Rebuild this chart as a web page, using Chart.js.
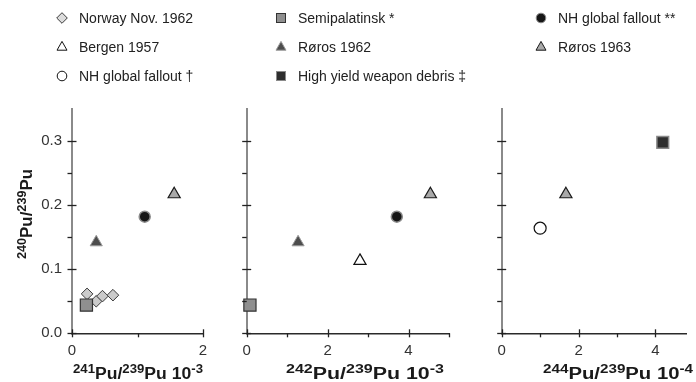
<!DOCTYPE html>
<html>
<head>
<meta charset="utf-8">
<script src="https://cdn.jsdelivr.net/npm/chart.js@4/dist/chart.umd.min.js"></script>
<style>
  html, body { margin: 0; padding: 0; background: #fff; }
  #wrap { position: relative; width: 696px; height: 382px; overflow: hidden;
          font-family: "Liberation Sans", Arial, Helvetica, sans-serif; }
  canvas.panel { position: absolute; top: 90px; }
  .leg { position: absolute; font-size: 14px; line-height: 16px; color: #222; white-space: nowrap;
         will-change: transform; }
  .mk { position: absolute; }
</style>
</head>
<body>
<div id="wrap">
  <canvas id="p241" class="panel" width="230" height="292" style="left:0px"></canvas>
  <canvas id="p242" class="panel" width="230" height="292" style="left:230px"></canvas>
  <canvas id="p244" class="panel" width="226" height="292" style="left:470px"></canvas>
</div>
<script>
// ---------------------------------------------------------------------------
// Plutonium isotope ratios. y: 240Pu/239Pu, x: 241Pu/239Pu (x10^-3),
// 242Pu/239Pu (x10^-3) and 244Pu/239Pu (x10^-4).
// ---------------------------------------------------------------------------
const seriesNames = [
  'Norway Nov. 1962', 'Semipalatinsk *', 'NH global fallout **',
  'Bergen 1957', 'Røros 1962', 'Røros 1963',
  'NH global fallout †', 'High yield weapon debris ‡'
];

const norwayY      = [0.0615, 0.050, 0.058, 0.0595];
const norwayX241   = [0.23, 0.37, 0.465, 0.625];

const semipalatinskY    = [0.044];
const semipalatinskX241 = [0.22];
const semipalatinskX242 = [0.08];

const nhFalloutY    = [0.182];
const nhFalloutX241 = [1.11];
const nhFalloutX242 = [3.71];

const bergenY    = [0.113];
const bergenX242 = [2.8];

const roros1962Y    = [0.142];
const roros1962X241 = [0.37];
const roros1962X242 = [1.27];

const roros1963Y    = [0.217];
const roros1963X241 = [1.56];
const roros1963X242 = [4.54];
const roros1963X244 = [1.67];

const nhFalloutDaggerY    = [0.164];
const nhFalloutDaggerX244 = [1.0];

const highYieldY    = [0.298];
const highYieldX244 = [4.19];

// axis ticks and their labels
const yTicks      = [0, 0.05, 0.1, 0.15, 0.2, 0.25, 0.3];
const yTickLabels = ['0.0', '', '0.1', '', '0.2', '', '0.3'];
const x241Ticks  = [0, 1, 2];
const x241Labels = ['0', '', '2'];
const x242Ticks  = [0, 1, 2, 3, 4, 5];
const x242Labels = ['0', '', '2', '', '4', ''];
const x244Ticks  = [0, 1, 2, 3, 4];
const x244Labels = ['0', '', '2', '', '4'];

// axis titles as [text, superscript] runs
const yTitle    = [['240', true], ['Pu/', false], ['239', true], ['Pu', false]];
const x241Title = [['241', true], ['Pu/', false], ['239', true], ['Pu 10', false], ['-3', true]];
const x242Title = [['242', true], ['Pu/', false], ['239', true], ['Pu 10', false], ['-3', true]];
const x244Title = [['244', true], ['Pu/', false], ['239', true], ['Pu 10', false], ['-4', true]];

// ---------------------------------------------------------------------------
const FONT = '"Liberation Sans", Arial, Helvetica, sans-serif';

const markStyle = {
  'Norway Nov. 1962':           { shape: 'rectRot',  r: 5.8, fill: '#cbcbcb', stroke: '#3a3a3a', w: 1,   order: 3 },
  'Semipalatinsk *':            { shape: 'rect',     r: 8.6, fill: '#8f8f8f', stroke: '#333333', w: 1.2, order: 1 },
  'NH global fallout **':       { shape: 'circle',   r: 5.5, fill: '#161616', stroke: '#8a8a8a', w: 1.5, order: 2 },
  'Bergen 1957':                { shape: 'triangle', r: 7,   fill: '#ffffff', stroke: '#111111', w: 1.2, order: 2 },
  'Røros 1962':                 { shape: 'triangle', r: 7,   fill: '#4d4d4d', stroke: '#9a9a9a', w: 1,   order: 2 },
  'Røros 1963':                 { shape: 'triangle', r: 7,   fill: '#a9a9a9', stroke: '#1a1a1a', w: 1.2, order: 2 },
  'NH global fallout †':        { shape: 'circle',   r: 6,   fill: '#ffffff', stroke: '#111111', w: 1.2, order: 2 },
  'High yield weapon debris ‡': { shape: 'rect',     r: 8.3, fill: '#2e2e2e', stroke: '#8a8a8a', w: 1.5, order: 2 }
};

function points(xs, ys) {
  return xs.map((x, i) => ({ x: x, y: ys[Math.min(i, ys.length - 1)] }));
}

function dataset(name, xs, ys) {
  const s = markStyle[name];
  return {
    label: name,
    data: points(xs, ys),
    pointStyle: s.shape,
    pointRadius: s.r,
    backgroundColor: s.fill,
    borderColor: s.stroke,
    borderWidth: s.w,
    order: s.order,
    clip: false
  };
}

// tick marks: major ones cross the axis, minor ones point outwards
const tickMarks = {
  id: 'tickMarks',
  afterDraw(chart, args, opts) {
    const ctx = chart.ctx;
    const a = chart.chartArea;
    const majorX = (opts && opts.xMajor) ? Array.from(opts.xMajor) : [];
    ctx.save();
    ctx.strokeStyle = '#222222';
    ctx.lineWidth = 1.3;
    const xs = chart.scales.x, ys = chart.scales.y;
    xs.ticks.forEach((t) => {
      const px = Math.round(xs.getPixelForValue(t.value)) + 0.5;
      const major = majorX.indexOf(t.value) >= 0;
      ctx.beginPath();
      ctx.moveTo(px, a.bottom - (major ? 4 : 0));
      ctx.lineTo(px, a.bottom + 4);
      ctx.stroke();
    });
    ys.ticks.forEach((t) => {
      const py = Math.round(ys.getPixelForValue(t.value)) + 0.5;
      const major = Math.abs(t.value * 10 - Math.round(t.value * 10)) < 1e-6;
      ctx.beginPath();
      ctx.moveTo(a.left - 4.5, py);
      ctx.lineTo(a.left + (major ? 4.5 : 0), py);
      ctx.stroke();
    });
    ctx.restore();
  }
};

// axis titles with superscript mass numbers
function runsWidth(ctx, runs, big, small) {
  let w = 0;
  runs.forEach(([t, sup]) => {
    ctx.font = 'bold ' + (sup ? small : big) + 'px ' + FONT;
    w += ctx.measureText(t).width;
  });
  return w;
}
function drawRuns(ctx, runs, x, y, big, small, rise) {
  runs.forEach(([t, sup]) => {
    ctx.font = 'bold ' + (sup ? small : big) + 'px ' + FONT;
    ctx.fillText(t, x, sup ? y - rise : y);
    x += ctx.measureText(t).width;
  });
}
const axisTitles = {
  id: 'axisTitles',
  afterDraw(chart, args, o) {
    const ctx = chart.ctx;
    ctx.fillStyle = '#1a1a1a';
    ctx.textBaseline = 'alphabetic';
    ctx.textAlign = 'left';
    if (o.x) {
      ctx.save();
      const w = runsWidth(ctx, o.x, o.big, o.small);
      const k = o.xWidth / w;
      ctx.translate(o.xCenter, o.xBase);
      ctx.scale(k, 1);
      drawRuns(ctx, o.x, -w / 2, 0, o.big, o.small, o.rise);
      ctx.restore();
    }
    if (o.y) {
      ctx.save();
      const w = runsWidth(ctx, o.y, o.big, o.small);
      const k = o.yWidth / w;
      ctx.translate(o.yBase, o.yCenter);
      ctx.rotate(-Math.PI / 2);
      ctx.scale(k, 1);
      drawRuns(ctx, o.y, -w / 2, 0, o.big, o.small, o.rise);
      ctx.restore();
    }
  }
};

function makePanel(canvasId, datasets, xMax, xTicks, xLabels, xMajor, showYLabels, yAxisWidth, padRight, titles) {
  return new Chart(document.getElementById(canvasId), {
    type: 'scatter',
    data: { datasets: datasets },
    plugins: [tickMarks, axisTitles],
    options: {
      responsive: false,
      animation: false,
      events: [],
      layout: { padding: { top: 12.3, right: padRight, bottom: 0, left: 0 } },
      plugins: {
        legend: { display: false },
        tooltip: { enabled: false },
        tickMarks: { xMajor: xMajor },
        axisTitles: Object.assign({ big: 16, small: 12, rise: 6.5 }, titles)
      },
      scales: {
        x: {
          type: 'linear', min: 0, max: xMax,
          grid: { display: false, drawTicks: false },
          border: { display: true, color: '#2a2a2a', width: 1.5 },
          afterBuildTicks: (s) => { s.ticks = xTicks.map(v => ({ value: v })); },
          afterFit: (s) => { s.height = 48.7; },
          ticks: {
            autoSkip: false, maxRotation: 0, padding: 9, color: '#333',
            font: { family: FONT, size: 15 },
            callback: (v, i) => xLabels[i]
          }
        },
        y: {
          type: 'linear', min: 0, max: 0.35,
          grid: { display: false, drawTicks: false },
          border: { display: true, color: '#8a8a8a', width: 2 },
          afterBuildTicks: (s) => { s.ticks = yTicks.map(v => ({ value: v })); },
          afterFit: (s) => { s.width = yAxisWidth; },
          ticks: {
            autoSkip: false, padding: 10, color: '#333',
            font: { family: FONT, size: 15 },
            callback: (v, i) => (showYLabels ? yTickLabels[i] : '')
          }
        }
      }
    }
  });
}

// 241Pu/239Pu panel
makePanel('p241', [
  dataset('Semipalatinsk *', semipalatinskX241, semipalatinskY),
  dataset('Norway Nov. 1962', norwayX241, norwayY),
  dataset('Røros 1962', roros1962X241, roros1962Y),
  dataset('NH global fallout **', nhFalloutX241, nhFalloutY),
  dataset('Røros 1963', roros1963X241, roros1963Y)
], 2, x241Ticks, x241Labels, [0, 2], true, 72, 27,
{ x: x241Title, xCenter: 138, xBase: 289, xWidth: 130,
  y: yTitle, yBase: 32, yCenter: 124, yWidth: 90 });

// 242Pu/239Pu panel
makePanel('p242', [
  dataset('Semipalatinsk *', semipalatinskX242, semipalatinskY),
  dataset('Røros 1962', roros1962X242, roros1962Y),
  dataset('Bergen 1957', bergenX242, bergenY),
  dataset('NH global fallout **', nhFalloutX242, nhFalloutY),
  dataset('Røros 1963', roros1963X242, roros1963Y)
], 5, x242Ticks, x242Labels, [0, 2, 4], false, 16.7, 11,
{ x: x242Title, xCenter: 135, xBase: 289, xWidth: 158 });

// 244Pu/239Pu panel
makePanel('p244', [
  dataset('NH global fallout †', nhFalloutDaggerX244, nhFalloutDaggerY),
  dataset('Røros 1963', roros1963X244, roros1963Y),
  dataset('High yield weapon debris ‡', highYieldX244, highYieldY)
], 4.8, x244Ticks, x244Labels, [0, 2, 4], false, 31.7, 0,
{ x: x244Title, xCenter: 148, xBase: 289, xWidth: 150 });

// ---------------------------------------------------------------------------
// legend: three columns, three rows
const legendCols = [62, 281, 541];
const legendRows = [18, 47, 76];
const SVGNS = 'http://www.w3.org/2000/svg';

function markerSvg(name) {
  const s = markStyle[name];
  const svg = document.createElementNS(SVGNS, 'svg');
  svg.setAttribute('width', 16);
  svg.setAttribute('height', 16);
  svg.setAttribute('viewBox', '-8 -8 16 16');
  let el;
  if (s.shape === 'circle') {
    el = document.createElementNS(SVGNS, 'circle');
    el.setAttribute('r', 4.8);
  } else if (s.shape === 'rect') {
    el = document.createElementNS(SVGNS, 'rect');
    el.setAttribute('x', -4.5); el.setAttribute('y', -4.5);
    el.setAttribute('width', 9); el.setAttribute('height', 9);
  } else if (s.shape === 'rectRot') {
    el = document.createElementNS(SVGNS, 'polygon');
    el.setAttribute('points', '-5.3,0 0,-5.3 5.3,0 0,5.3');
  } else {
    el = document.createElementNS(SVGNS, 'polygon');
    el.setAttribute('points', '0,-5.6 5,3.2 -5,3.2');
  }
  el.setAttribute('fill', s.fill === '#cbcbcb' ? '#dcdcdc' : s.fill);
  el.setAttribute('stroke', s.stroke);
  el.setAttribute('stroke-width', 1);
  svg.appendChild(el);
  return svg;
}

const wrap = document.getElementById('wrap');
seriesNames.forEach((name, i) => {
  const cx = legendCols[i % 3];
  const cy = legendRows[Math.floor(i / 3)];
  const m = markerSvg(name);
  m.setAttribute('class', 'mk');
  m.style.left = (cx - 8) + 'px';
  m.style.top = (cy - 8) + 'px';
  wrap.appendChild(m);
  const t = document.createElement('div');
  t.className = 'leg';
  t.textContent = name;
  t.style.left = (cx + 17) + 'px';
  t.style.top = (cy - 8) + 'px';
  wrap.appendChild(t);
});
</script>
</body>
</html>
